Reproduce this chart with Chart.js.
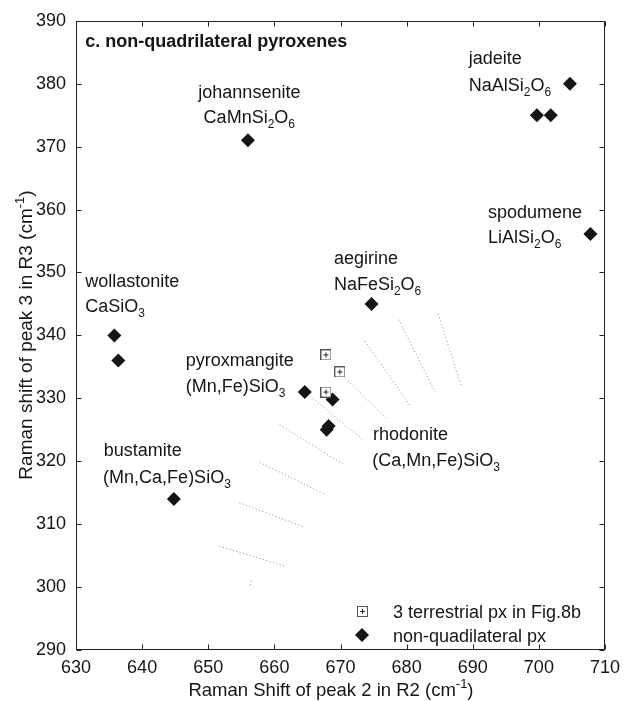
<!DOCTYPE html>
<html>
<head>
<meta charset="utf-8">
<script src="https://cdn.jsdelivr.net/npm/chart.js@4.4.1/dist/chart.umd.min.js"></script>
<style>
  html, body { margin: 0; padding: 0; background: #fff; }
  #wrap { width: 630px; height: 701px; position: relative; }
</style>
</head>
<body>
<div id="wrap"><canvas id="c" width="630" height="701"></canvas></div>
<script>
// ---------- data ----------
const nonQuadX = [656.0, 704.7, 699.7, 701.8, 707.8, 674.7, 635.8, 636.4, 644.8, 664.6, 668.8, 667.9, 668.2];
const nonQuadY = [371.0, 380.0, 375.0, 375.0, 356.1, 345.0, 340.0, 336.0, 314.0, 331.0, 329.8, 325.0, 325.6];

const terrX = [667.8, 669.9, 667.8];
const terrY = [336.9, 334.2, 331.0];

// faint dotted tie lines
const tieStartX = [678.8, 684.8, 673.7, 670.4, 665.8, 660.8, 657.8, 654.7, 651.7, 656.5];
const tieStartY = [342.5, 343.4, 339.1, 333.6, 330.0, 325.8, 319.8, 313.4, 306.5, 301.0];
const tieEndX   = [684.3, 688.2, 680.5, 677.0, 673.4, 670.6, 667.6, 664.6, 661.7, 656.3];
const tieEndY   = [331.0, 332.1, 328.9, 326.7, 323.4, 319.4, 314.8, 309.5, 303.3, 300.0];

const xTicks = [630, 640, 650, 660, 670, 680, 690, 700, 710];
const yTicks = [290, 300, 310, 320, 330, 340, 350, 360, 370, 380, 390];

// mineral labels: name and formula (_{..} = subscript)
const labelNames    = ['johannsenite', 'jadeite', 'spodumene', 'aegirine', 'wollastonite', 'pyroxmangite', 'bustamite', 'rhodonite'];
const labelFormulas = ['CaMnSi_{2}O_{6}', 'NaAlSi_{2}O_{6}', 'LiAlSi_{2}O_{6}', 'NaFeSi_{2}O_{6}', 'CaSiO_{3}', '(Mn,Fe)SiO_{3}', '(Mn,Ca,Fe)SiO_{3}', '(Ca,Mn,Fe)SiO_{3}'];
const nameAnchorX    = [648.5, 689.4, 692.3, 669.0, 631.4, 646.6, 634.2, 674.9];
const nameAnchorY    = [377.7, 383.1, 358.7, 351.4, 347.7, 335.2, 320.8, 323.3];
const formulaAnchorX = [649.3, 689.4, 692.3, 669.0, 631.4, 646.6, 634.1, 674.8];
const formulaAnchorY = [373.7, 378.9, 354.7, 347.2, 343.7, 331.0, 316.6, 319.3];

const panelTitle = 'c. non-quadrilateral pyroxenes';
const panelTitleX = 631.4, panelTitleY = 385.9;
const xTitle = 'Raman Shift of peak 2 in R2 (cm^{-1})';
const yTitle = 'Raman shift of peak 3 in R3 (cm^{-1})';
const legendLabels = ['3 terrestrial px in Fig.8b', 'non-quadilateral px'];

// ---------- helpers ----------
const FONT = '"Liberation Sans", Arial, Helvetica, sans-serif';
const INK = '#151515';

function parseRich(s) {
  const out = [];
  const re = /(_\{[^}]*\}|\^\{[^}]*\}|[^_^]+)/g;
  let m;
  while ((m = re.exec(s)) !== null) {
    const t = m[0];
    if (t.startsWith('_{')) out.push({ t: t.slice(2, -1), k: 'sub' });
    else if (t.startsWith('^{')) out.push({ t: t.slice(2, -1), k: 'sup' });
    else out.push({ t: t, k: 'n' });
  }
  return out;
}
function segFont(k, size, bold) {
  const s = k === 'n' ? size : Math.round(size * 0.68);
  return (bold ? 'bold ' : '') + s + 'px ' + FONT;
}
function richWidth(ctx, segs, size, bold) {
  let w = 0;
  segs.forEach(sg => { ctx.font = segFont(sg.k, size, bold); w += ctx.measureText(sg.t).width; });
  return w;
}
// draws at baseline y, starting at x (align: 'left' | 'center')
function drawRich(ctx, str, x, y, size, bold, align) {
  const segs = parseRich(str);
  const w = richWidth(ctx, segs, size, bold);
  let cx = align === 'center' ? x - w / 2 : x;
  ctx.textBaseline = 'alphabetic';
  ctx.textAlign = 'left';
  segs.forEach(sg => {
    ctx.font = segFont(sg.k, size, bold);
    let dy = 0;
    if (sg.k === 'sub') dy = size * 0.28;
    if (sg.k === 'sup') dy = -size * 0.42;
    ctx.fillText(sg.t, cx, y + dy);
    cx += ctx.measureText(sg.t).width;
  });
}

// square-with-plus marker
function makeSquareMarker() {
  const c = document.createElement('canvas');
  c.width = 11; c.height = 11;
  const g = c.getContext('2d');
  g.fillStyle = '#fff';
  g.fillRect(0, 0, 11, 11);
  g.strokeStyle = '#555';
  g.lineWidth = 1;
  g.strokeRect(0.5, 0.5, 10, 10);
  g.strokeStyle = '#222';
  g.beginPath();
  g.moveTo(3, 5.5); g.lineTo(8, 5.5);
  g.moveTo(5.5, 3); g.lineTo(5.5, 8);
  g.stroke();
  return c;
}
const squareMarker = makeSquareMarker();

function drawDiamond(ctx, x, y, r) {
  ctx.beginPath();
  ctx.moveTo(x - r, y);
  ctx.lineTo(x, y - r);
  ctx.lineTo(x + r, y);
  ctx.lineTo(x, y + r);
  ctx.closePath();
  ctx.fill();
}

// ---------- datasets ----------
const datasets = [];
for (let i = 0; i < tieStartX.length; i++) {
  datasets.push({
    type: 'line',
    data: [{ x: tieStartX[i], y: tieStartY[i] }, { x: tieEndX[i], y: tieEndY[i] }],
    borderColor: '#8a8a8a',
    borderWidth: 1,
    borderDash: [1, 2.5],
    pointRadius: 0,
    fill: false,
    showLine: true,
    order: 3
  });
}
datasets.push({
  label: legendLabels[1],
  data: nonQuadX.map((x, i) => ({ x: x, y: nonQuadY[i] })),
  pointStyle: 'rectRot',
  pointRadius: 7,
  pointHoverRadius: 7,
  backgroundColor: INK,
  borderWidth: 0,
  order: 1
});
datasets.push({
  label: legendLabels[0],
  data: terrX.map((x, i) => ({ x: x, y: terrY[i] })),
  pointStyle: squareMarker,
  pointRadius: 5,
  order: 0
});

// ---------- plugin: frame, ticks, labels, legend, titles ----------
const decor = {
  id: 'decor',
  afterDraw(chart) {
    const ctx = chart.ctx;
    const { left, right, top, bottom } = chart.chartArea;
    const xs = chart.scales.x, ys = chart.scales.y;
    const L = Math.round(left) + 0.5, R = Math.round(right) - 0.5;
    const T = Math.round(top) + 0.5, B = Math.round(bottom) - 0.5;
    ctx.save();
    ctx.strokeStyle = '#222';
    ctx.lineWidth = 1;
    ctx.strokeRect(L, T, R - L, B - T);
    ctx.beginPath();
    const tl = 5;
    xTicks.forEach(v => {
      const px = Math.round(xs.getPixelForValue(v)) + 0.5;
      ctx.moveTo(px, B); ctx.lineTo(px, B - tl);
      ctx.moveTo(px, T); ctx.lineTo(px, T + tl);
    });
    yTicks.forEach(v => {
      const py = Math.round(ys.getPixelForValue(v)) + 0.5;
      ctx.moveTo(L, py); ctx.lineTo(L + tl, py);
      ctx.moveTo(R, py); ctx.lineTo(R - tl, py);
    });
    ctx.stroke();

    ctx.fillStyle = INK;
    // panel title
    drawRich(ctx, panelTitle, xs.getPixelForValue(panelTitleX), ys.getPixelForValue(panelTitleY), 18, true, 'left');
    // mineral labels
    for (let i = 0; i < labelNames.length; i++) {
      drawRich(ctx, labelNames[i], xs.getPixelForValue(nameAnchorX[i]), ys.getPixelForValue(nameAnchorY[i]), 18, false, 'left');
      drawRich(ctx, labelFormulas[i], xs.getPixelForValue(formulaAnchorX[i]), ys.getPixelForValue(formulaAnchorY[i]), 18, false, 'left');
    }
    // legend
    const lgX = right - 243, lgTxt = right - 212;
    const row1 = bottom - 39, row2 = bottom - 15;
    ctx.drawImage(squareMarker, Math.round(lgX - 5.5), Math.round(row1 - 5.5));
    drawDiamond(ctx, lgX, row2, 7);
    drawRich(ctx, legendLabels[0], lgTxt, row1 + 6.5, 18, false, 'left');
    drawRich(ctx, legendLabels[1], lgTxt, row2 + 6.5, 18, false, 'left');

    // axis titles
    drawRich(ctx, xTitle, 331, 696, 18.5, false, 'center');
    ctx.translate(32, 335);
    ctx.rotate(-Math.PI / 2);
    drawRich(ctx, yTitle, 0, 0, 19, false, 'center');
    ctx.restore();
  }
};

new Chart(document.getElementById('c'), {
  type: 'scatter',
  data: { datasets: datasets },
  options: {
    responsive: false,
    animation: false,
    events: [],
    layout: { padding: { left: 0, right: 25, top: 12, bottom: 0 } },
    plugins: { legend: { display: false }, tooltip: { enabled: false } },
    scales: {
      x: {
        type: 'linear', min: 630, max: 710,
        afterFit(s) { s.height = 51; },
        afterBuildTicks(s) { s.ticks = xTicks.map(v => ({ value: v })); },
        grid: { display: false, drawTicks: false },
        border: { display: false },
        ticks: { padding: 7, maxRotation: 0, autoSkip: false, color: INK, font: { family: FONT, size: 18 } }
      },
      y: {
        type: 'linear', min: 290, max: 390,
        afterFit(s) { s.width = 76; },
        afterBuildTicks(s) { s.ticks = yTicks.map(v => ({ value: v })); },
        grid: { display: false, drawTicks: false },
        border: { display: false },
        ticks: { padding: 10, autoSkip: false, color: INK, font: { family: FONT, size: 18 } }
      }
    }
  },
  plugins: [decor]
});
</script>
</body>
</html>
